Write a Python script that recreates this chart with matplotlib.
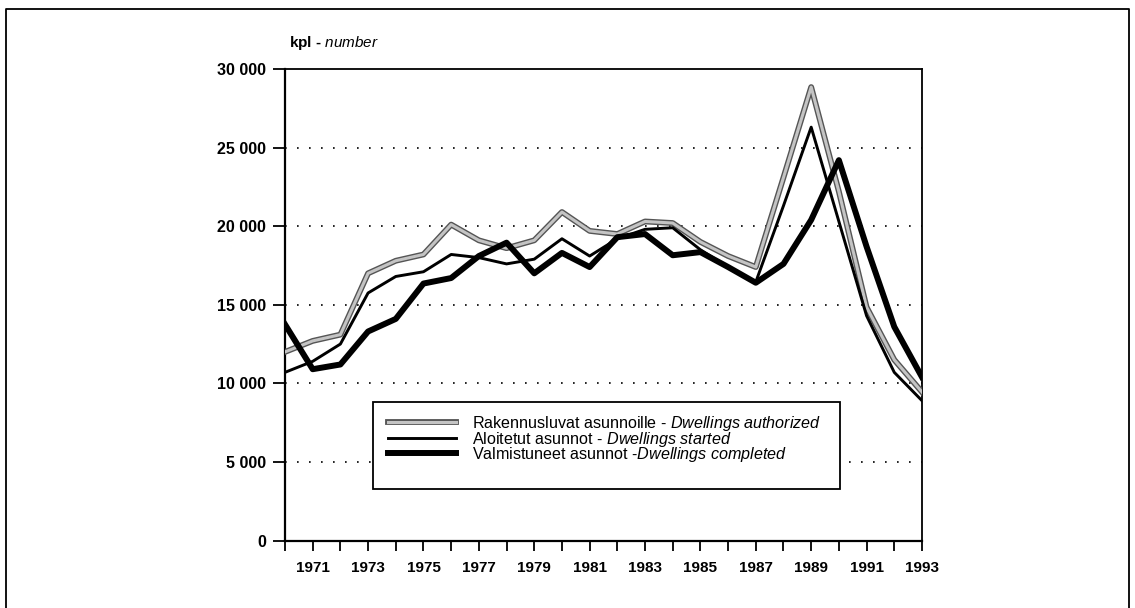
import numpy as np
import matplotlib
matplotlib.use('Agg')
import matplotlib.pyplot as plt
import matplotlib.patheffects as pe
from matplotlib.lines import Line2D
from matplotlib.patches import Rectangle
from matplotlib.ticker import FuncFormatter

plt.rcParams['font.family'] = ['Liberation Sans', 'DejaVu Sans']
plt.rcParams['mathtext.fontset'] = 'custom'
plt.rcParams['mathtext.rm'] = 'Liberation Sans'
plt.rcParams['mathtext.it'] = 'Liberation Sans:italic'

# Data
years = list(range(1970, 1994))
authorized = [12000, 12700, 13100, 17000, 17800, 18200, 20100, 19100, 18600, 19100, 20900, 19700,
              19500, 20300, 20200, 19000, 18100, 17400, 23100, 28850, 22200, 14850, 11500, 9450]
started = [10700, 11400, 12500, 15750, 16800, 17100, 18200, 18000, 17600, 17900, 19200, 18100,
           19200, 19800, 19900, 18500, 17400, 16450, 21300, 26300, 20300, 14300, 10700, 8900]
completed = [13750, 10900, 11200, 13300, 14100, 16350, 16700, 18100, 18950, 17000, 18300, 17400,
             19300, 19500, 18150, 18350, 17400, 16400, 17600, 20400, 24200, 18700, 13600, 10400]

labels = ['Rakennusluvat asunnoille - $\\it{Dwellings\\ authorized}$',
          'Aloitetut asunnot - $\\it{Dwellings\\ started}$',
          'Valmistuneet asunnot -$\\it{Dwellings\\ completed}$']
y_ticks = [0, 5000, 10000, 15000, 20000, 25000, 30000]

fig = plt.figure(figsize=(11.35, 6.08), dpi=100)
ax = fig.add_axes([0.2511, 0.111, 0.5612, 0.7755])

# grey "textured" line for permits
ax.plot(years, authorized, color='#c4c4c4', lw=2.2, zorder=3, label=labels[0],
        path_effects=[pe.Stroke(linewidth=4.2, foreground='#555555'), pe.Normal()])
ax.plot(years, started, color='black', lw=2.1, zorder=4, label=labels[1])
ax.plot(years, completed, color='black', lw=4.3, zorder=5, label=labels[2])

ax.set_xlim(1970, 1993)
ax.set_ylim(0, 30000)

# dotted grid lines
for v in y_ticks[1:-1]:
    ax.axhline(v, color='black', lw=1.2, linestyle=(0, (1, 6.2)), zorder=1)

ax.set_yticks(y_ticks)
ax.yaxis.set_major_formatter(FuncFormatter(lambda v, p: f'{int(v):,}'.replace(',', ' ')))
ax.set_xticks(years)
ax.set_xticklabels([str(y) if y % 2 == 1 else '' for y in years])

ax.tick_params(axis='y', direction='out', length=8.6, width=1.3, pad=5, labelsize=11.5)
ax.tick_params(axis='x', direction='out', length=7, width=1.3, pad=7.5, labelsize=11)
for lab in ax.get_xticklabels() + ax.get_yticklabels():
    lab.set_fontweight('bold')

for s in ['left', 'bottom']:
    ax.spines[s].set_linewidth(1.6)
for s in ['top', 'right']:
    ax.spines[s].set_linewidth(1.3)

ax.text(0.006, 1.055, 'kpl - $\\it{number}$', transform=ax.transAxes, fontsize=11,
        ha='left', va='center', fontweight='bold')

# legend box (drawn separately, it is taller at the bottom)
px = lambda x: (x - 285) / 637
py = lambda y: (540.5 - y) / 471.5
ax.add_patch(Rectangle((px(373), py(489)), px(840) - px(373), py(402) - py(489),
                       transform=ax.transAxes, facecolor='white', edgecolor='black',
                       lw=1.3, zorder=6))
leg = ax.legend(loc='center left', bbox_to_anchor=(px(388), py(439)), fontsize=11.6,
                frameon=False, handlelength=4.2, handletextpad=1.0,
                labelspacing=-0.22, borderpad=0, borderaxespad=0)
leg.set_zorder(7)

# outer frame around the whole picture
x0, x1, ytop = 6 / 1135, 1129 / 1135, 1 - 9 / 608
fig.add_artist(Line2D([x0, x0, x1, x1], [0, ytop, ytop, 0], color='black', lw=1.3))

fig.savefig('out.png', dpi=100)
